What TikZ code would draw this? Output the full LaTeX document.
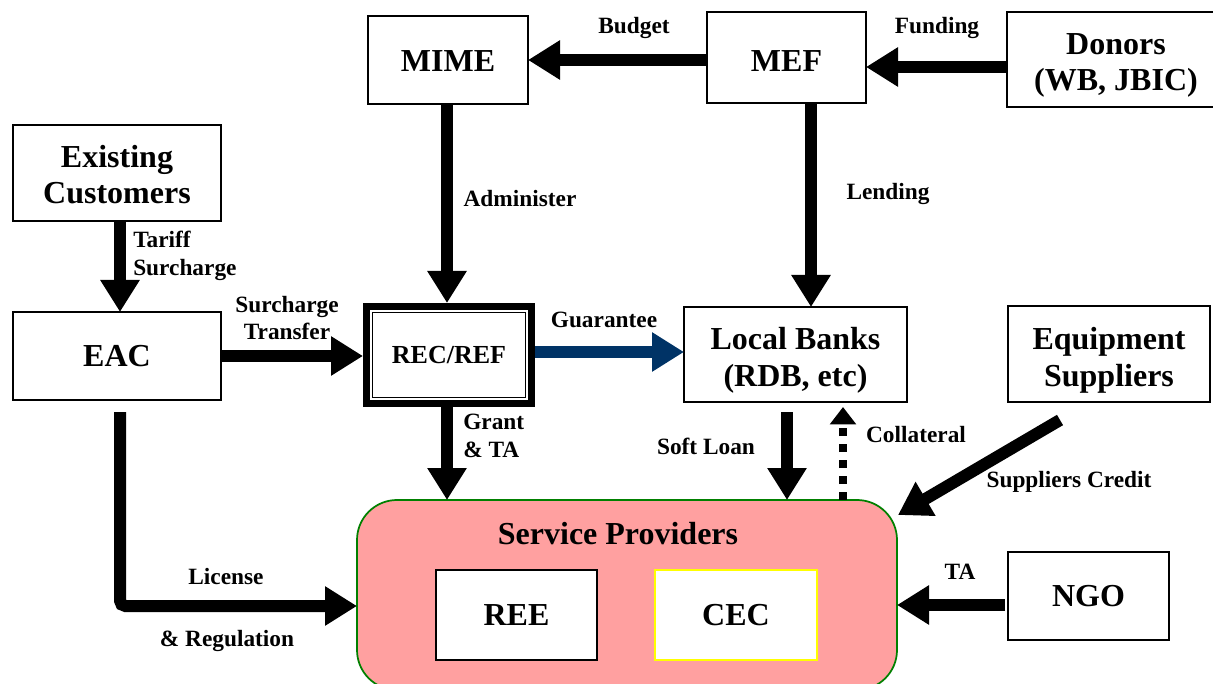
\documentclass[tikz,border=0pt]{standalone}
\usepackage{fontspec}
\setmainfont{Liberation Serif}
\usetikzlibrary{arrows.meta,calc}

\definecolor{navy}{RGB}{0,51,102}
\definecolor{spfill}{RGB}{255,160,160}
\definecolor{spedge}{RGB}{0,128,0}
\definecolor{cecedge}{RGB}{255,255,0}

\tikzset{
  bigfont/.style={font=\fontsize{24pt}{27.5pt}\selectfont\bfseries},
  lblfont/.style={font=\fontsize{17.5pt}{20.5pt}\selectfont\bfseries},
  box/.style={draw=black, line width=1.1pt, fill=white, bigfont, align=center,
              inner sep=0pt, outer sep=0pt},
  boxtext/.style={bigfont, align=center, inner sep=0pt},
  lbl/.style={lblfont, inner sep=0pt, align=center},
  arr/.style={line width=9pt, -{Triangle[width=28pt,length=24pt]}},
  dasharr/.style={line width=6pt, dash pattern=on 6pt off 6pt,
                  -{Triangle[width=19pt,length=13pt]}},
}

\begin{document}
\begin{tikzpicture}[x=0.75pt,y=-0.75pt]
\useasboundingbox (0,0) rectangle (1213,684);
\clip (0,0) rectangle (1213,684);

% top row
\node[box, minimum width=120pt, minimum height=66pt] (mime) at (448,60) {};
\node[boxtext] (mimet) at ($(mime)+(0,1.5)$) {MIME};
\node[box, minimum width=119.25pt, minimum height=68.25pt] (mef) at (786.5,57.5) {};
\node[boxtext] (meft) at ($(mef)+(0,4)$) {MEF};
\node[box, minimum width=163.5pt, minimum height=71.25pt] (donors) at (1116,59.5) {};
\node[boxtext] (donorst) at ($(donors)+(0,6)$) {Donors\\(WB, JBIC)};

% left column
\node[box, minimum width=156pt, minimum height=72pt] (existing) at (117,173) {};
\node[boxtext] (existingt) at ($(existing)+(0,1.5)$) {Existing\\Customers};
\node[box, minimum width=156pt, minimum height=66pt] (eac) at (117,356) {EAC};

% fund with its double frame
\node[draw=black, line width=5.25pt, fill=white, minimum width=123.75pt, minimum height=72.75pt,
      inner sep=0pt, outer sep=0.5\pgflinewidth,
      font=\fontsize{19.5pt}{22pt}\selectfont\bfseries] (rec) at (449,355) {REC/REF};
\draw[line width=1.1pt] ($(rec.north west)+(9.5,9.5)$) rectangle ($(rec.south east)+(-9.5,-9.5)$);

% middle row
\node[box, minimum width=167.25pt, minimum height=71.25pt] (banks) at (795.5,354.5) {};
\node[boxtext] (bankst) at ($(banks)+(0,6)$) {Local Banks\\(RDB, etc)};
\node[box, minimum width=151.5pt, minimum height=72pt] (equip) at (1109,354) {};
\node[boxtext] (equipt) at ($(equip)+(0,6)$) {Equipment\\Suppliers};

% service providers
\node[draw=spedge, fill=spfill, line width=1.3pt, rounded corners=30pt,
      minimum width=405pt, minimum height=142.5pt, inner sep=0pt, outer sep=0pt] (sp) at (627,595) {};
\node[bigfont, inner sep=0pt] (sptitle) at (618,534) {Service Providers};
\node[box, minimum width=120.75pt, minimum height=67.5pt] (ree) at (516.5,615) {REE};
\node[box, draw=cecedge, line width=1.5pt, minimum width=121.5pt, minimum height=67.5pt] (cec) at (736,615) {CEC};
\node[box, minimum width=120.75pt, minimum height=66pt] (ngo) at (1088.5,596) {NGO};

% flows
\draw[arr] (mef.west |- 0,60) -- (mime.east |- 0,60);
\draw[arr] (donors.west |- 0,67) -- (mef.east |- 0,67);
\draw[arr] (mime.south -| 447,0) -- (rec.north -| 447,0);
\draw[arr] (mef.south -| 811,0) -- (banks.north -| 811,0);
\draw[arr] (existing.south -| 120,0) -- (eac.north -| 120,0);
\draw[arr] (eac.east |- 0,356) -- (rec.west |- 0,356);
\draw[arr, navy] (rec.east |- 0,352) -- (banks.west |- 0,352);
\draw[arr] (rec.south -| 447,0) -- (sp.north -| 447,0);
\draw[arr] ($(banks.south -| 787,0)+(0,10)$) -- (sp.north -| 787,0);
\draw[dasharr] (sp.north -| 843,0) -- ($(banks.south -| 843,0)+(0,5)$);
\draw[arr] ($(equip.south)+(-49,18)$) -- ($(sp.north east)+(1,15)$);
\draw[arr] ($(ngo.west |- 0,605)+(-3,0)$) -- (sp.east |- 0,605);
\draw[arr, rounded corners=4pt] ($(eac.south -| 120,0)+(0,12)$) |- (sp.west |- 0,606);

% flow labels
\node[lbl] (lbudget) at (634,28) {Budget};
\node[lbl] (lfunding) at (937,28) {Funding};
\node[lbl] (ladmin) at (520,199) {Administer};
\node[lbl] (llending) at (888,194) {Lending};
\node[lbl, anchor=west, align=left] (ltariff) at (133,256) {Tariff\\Surcharge};
\node[lbl] (ltransfer) at (287,318) {Surcharge\\Transfer};
\node[lbl] (lguar) at (604,320) {Guarantee};
\node[lbl, anchor=west, align=left] (lgrant) at (463,436) {Grant\\\& TA};
\node[lbl] (lsoft) at (706,446) {Soft Loan};
\node[lbl] (lcoll) at (916,435) {Collateral};
\node[lbl] (lsupp) at (1069,482) {Suppliers Credit};
\node[lbl] (lta) at (960,572) {TA};
\node[lbl] (llic) at (226,577) {License};
\node[lbl] (lreg) at (227,641) {\& Regulation};
\end{tikzpicture}
\end{document}
